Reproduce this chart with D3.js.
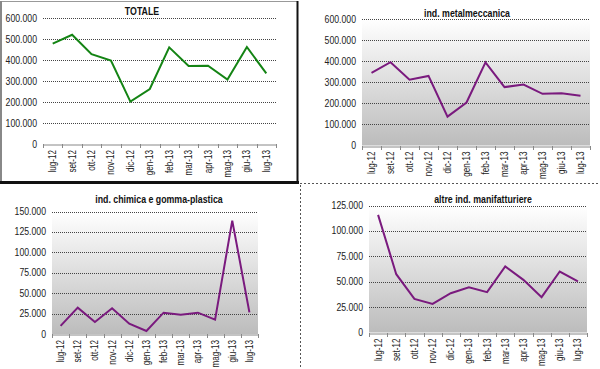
<!DOCTYPE html>
<html>
<head>
<meta charset="utf-8">
<script src="https://cdn.jsdelivr.net/npm/d3@7"></script>
<style>
  body { margin: 0; background: #fff; }
  svg { display: block; font-family: "Liberation Sans", Arial, sans-serif; }
</style>
</head>
<body>
<div id="chart"></div>
<script>
const months = ["lug-12", "set-12", "ott-12", "nov-12", "dic-12", "gen-13",
    "feb-13", "mar-13", "apr-13", "mag-13", "giu-13", "lug-13"];

const totale = [478000, 520000, 428000, 397000, 202000, 262000, 460000, 372000, 373000, 307000, 462000, 336000];
const metalmeccanica = [345000, 395000, 312000, 330000, 137000, 204000, 394000, 277000, 289000, 245000, 248000, 236000];
const chimica = [10000, 32300, 14700, 31500, 12700, 3700, 26100, 23700, 26100, 17600, 138900, 26500];
const altre = [115800, 57400, 33100, 28200, 38700, 44600, 39700, 65000, 51800, 34800, 60000, 50200];

const ticksBig = [0, 100000, 200000, 300000, 400000, 500000, 600000];
const ticksSmallA = [0, 25000, 50000, 75000, 100000, 125000, 150000];
const ticksSmallB = [0, 25000, 50000, 75000, 100000, 125000];

const it = d3.formatLocale({decimal: ",", thousands: ".", grouping: [3], currency: ["", "€"]});
const fmt = it.format(",.0f");

const W = 600, H = 369;
const svg = d3.select("#chart").append("svg")
    .attr("width", W)
    .attr("height", H);

const defs = svg.append("defs");
const grad = defs.append("linearGradient")
    .attr("id", "bg")
    .attr("x1", 0).attr("y1", 0).attr("x2", 0).attr("y2", 1);
grad.append("stop").attr("offset", "0%").attr("stop-color", "#ffffff");
grad.append("stop").attr("offset", "100%").attr("stop-color", "#bcbcbc");

// separators between panels
svg.append("line")
    .attr("x1", 300).attr("x2", 600).attr("y1", 183.5).attr("y2", 183.5)
    .attr("stroke", "#555").attr("stroke-dasharray", "2,2");
svg.append("line")
    .attr("x1", 300.5).attr("x2", 300.5).attr("y1", 185).attr("y2", 369)
    .attr("stroke", "#555").attr("stroke-dasharray", "2,2");

// box round the TOTALE chart
svg.append("line").attr("x1", 0).attr("x2", 298).attr("y1", 1.5).attr("y2", 1.5)
    .attr("stroke", "#999").attr("stroke-width", 1);
svg.append("line").attr("x1", 1).attr("x2", 1).attr("y1", 1).attr("y2", 184)
    .attr("stroke", "#888").attr("stroke-width", 2);
svg.append("line").attr("x1", 297.5).attr("x2", 297.5).attr("y1", 1).attr("y2", 184)
    .attr("stroke", "#111").attr("stroke-width", 2);
svg.append("line").attr("x1", 0).attr("x2", 299).attr("y1", 182.5).attr("y2", 182.5)
    .attr("stroke", "#111").attr("stroke-width", 3);

function drawPanel(cfg) {
    const x = d3.scaleBand()
        .domain(months)
        .range([cfg.left, cfg.right]);

    const y = d3.scaleLinear()
        .domain([0, d3.max(cfg.ticks)])
        .range([cfg.bottom, cfg.top]);

    const g = svg.append("g");

    if (cfg.gradient) {
        g.append("rect")
            .attr("x", cfg.left)
            .attr("y", cfg.top)
            .attr("width", cfg.right - cfg.left)
            .attr("height", cfg.bottom - cfg.top)
            .attr("fill", "url(#bg)");
    }

    // gridlines
    g.selectAll(".grid")
        .data(cfg.ticks.filter(d => d > 0))
        .enter()
        .append("line")
        .attr("x1", cfg.left)
        .attr("x2", cfg.right)
        .attr("y1", d => Math.round(y(d)) + 0.5)
        .attr("y2", d => Math.round(y(d)) + 0.5)
        .attr("stroke", "#444")
        .attr("stroke-dasharray", "1,1");

    // y labels
    g.selectAll(".ylab")
        .data(cfg.ticks)
        .enter()
        .append("text")
        .attr("transform", d => `translate(${cfg.left - 6}, ${y(d)}) scale(0.87, 1)`)
        .attr("dy", "0.35em")
        .attr("text-anchor", "end")
        .attr("font-size", 10)
        .attr("fill", "#222")
        .text(d => fmt(d));

    // x axis
    const xAxis = d3.axisBottom(x).tickSize(0).tickFormat("");
    const ax = g.append("g")
        .attr("transform", `translate(0, ${Math.round(cfg.bottom) + 0.5})`)
        .call(xAxis);
    ax.select(".domain").attr("stroke", "#888");

    const bounds = months.map(m => x(m)).concat([cfg.right]);
    g.selectAll(".xtick")
        .data(bounds)
        .enter()
        .append("line")
        .attr("x1", d => Math.round(d) + 0.5)
        .attr("x2", d => Math.round(d) + 0.5)
        .attr("y1", Math.round(cfg.bottom))
        .attr("y2", Math.round(cfg.bottom) + 4)
        .attr("stroke", "#888");

    g.selectAll(".xlab")
        .data(months)
        .enter()
        .append("text")
        .attr("transform", d => `translate(${x(d) + x.bandwidth() / 2}, ${cfg.bottom + 6}) rotate(-90) scale(0.81, 1)`)
        .attr("dy", "0.35em")
        .attr("text-anchor", "end")
        .attr("font-size", 10)
        .attr("fill", "#222")
        .text(d => d);

    // series
    const line = d3.line()
        .x((d, i) => x(months[i]) + x.bandwidth() / 2)
        .y(d => y(d));

    g.append("path")
        .datum(cfg.values)
        .attr("fill", "none")
        .attr("stroke", cfg.color)
        .attr("stroke-width", 2)
        .attr("d", line);

    g.append("text")
        .attr("transform", `translate(${cfg.titleX}, ${cfg.titleY}) scale(0.88, 1)`)
        .attr("dy", "0.35em")
        .attr("text-anchor", "middle")
        .attr("font-size", 10)
        .attr("font-weight", "bold")
        .attr("fill", "#111")
        .text(cfg.title);
}

drawPanel({title: "TOTALE", values: totale, ticks: ticksBig, color: "#148414",
    left: 43, right: 276, top: 18, bottom: 144, titleX: 142, titleY: 11, gradient: false});
drawPanel({title: "ind. metalmeccanica", values: metalmeccanica, ticks: ticksBig, color: "#7a1a7e",
    left: 362, right: 590, top: 19, bottom: 145.5, titleX: 467, titleY: 13, gradient: true});
drawPanel({title: "ind. chimica e gomma-plastica", values: chimica, ticks: ticksSmallA, color: "#7a1a7e",
    left: 52, right: 258, top: 211.5, bottom: 334, titleX: 159, titleY: 199, gradient: true});
drawPanel({title: "altre ind. manifatturiere", values: altre, ticks: ticksSmallB, color: "#7a1a7e",
    left: 369, right: 587, top: 205.5, bottom: 332.5, titleX: 483, titleY: 199, gradient: true});
</script>
</body>
</html>
